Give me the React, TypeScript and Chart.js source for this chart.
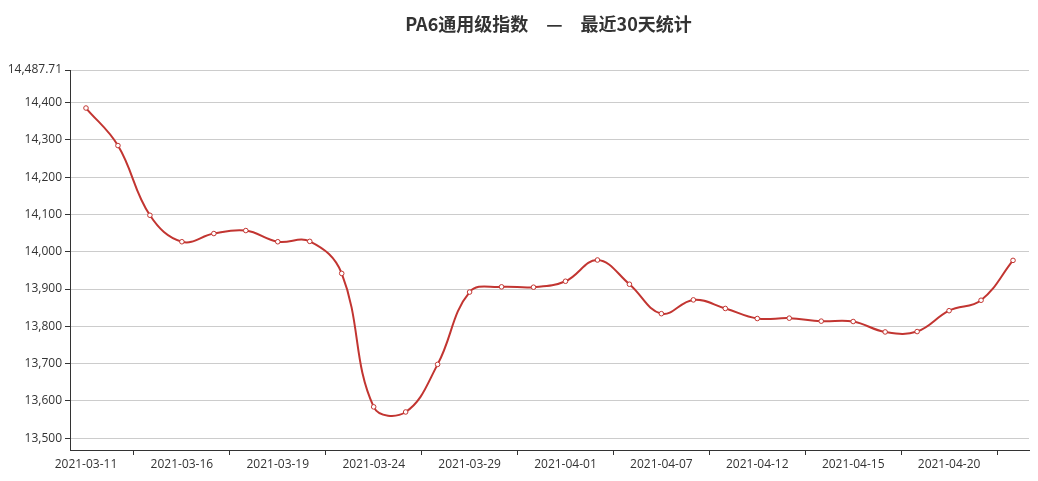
import React, { useEffect, useRef } from "react";
import { Chart, registerables } from "chart.js";

Chart.register(...registerables);

const TITLE = "PA6通用级指数　—　最近30天统计";

const DATES = [
  "2021-03-11", "2021-03-12", "2021-03-15", "2021-03-16", "2021-03-17",
  "2021-03-18", "2021-03-19", "2021-03-22", "2021-03-23", "2021-03-24",
  "2021-03-25", "2021-03-26", "2021-03-29", "2021-03-30", "2021-03-31",
  "2021-04-01", "2021-04-02", "2021-04-06", "2021-04-07", "2021-04-08",
  "2021-04-09", "2021-04-12", "2021-04-13", "2021-04-14", "2021-04-15",
  "2021-04-16", "2021-04-19", "2021-04-20", "2021-04-21", "2021-04-22",
];

const VALUES = [
  14385.7, 14285, 14098, 14027, 14049,
  14057, 14027, 14028, 13942, 13584,
  13570.3, 13698, 13892, 13906, 13905,
  13921, 13978, 13913, 13834, 13871,
  13848, 13821, 13822, 13814, 13813,
  13785, 13786, 13842, 13870, 13977,
];

const Y_TICKS = [13500, 13600, 13700, 13800, 13900, 14000, 14100, 14200, 14300, 14400, 14487.71];
const Y_MIN = 13468.3;
const Y_MAX = 14487.71;

const LABEL_EVERY = 3;
const LINE_COLOR = "#c23531";
const AXIS_COLOR = "#333333";
const GRID_COLOR = "#cccccc";
const FONT_FAMILY = "'Open Sans', 'Noto Sans CJK SC', sans-serif";

export default function App() {
  const canvasRef = useRef<HTMLCanvasElement | null>(null);

  useEffect(() => {
    document.body.style.margin = "0";
    const canvas = canvasRef.current;
    if (!canvas) return;
    const chart = new Chart(canvas, {
      type: "line",
      data: {
        labels: DATES,
        datasets: [
          {
            data: VALUES,
            borderColor: LINE_COLOR,
            borderWidth: 2,
            tension: 0.4,
            pointRadius: 2.3,
            pointBorderWidth: 1,
            pointBackgroundColor: "#ffffff",
            pointBorderColor: LINE_COLOR,
            fill: false,
          },
        ],
      },
      options: {
        animation: false,
        responsive: true,
        maintainAspectRatio: false,
        layout: { padding: { top: 70, right: 9, left: 0, bottom: 0 } },
        plugins: {
          legend: { display: false },
          title: { display: false },
          tooltip: { enabled: false },
        },
        scales: {
          x: {
            type: "category",
            offset: true,
            border: { display: true, color: AXIS_COLOR, width: 1 },
            grid: {
              offset: true,
              drawOnChartArea: false,
              drawTicks: true,
              tickLength: 5,
              color: "transparent",
              tickColor: (ctx: any) =>
                typeof ctx.index === "number" && ctx.index % LABEL_EVERY === LABEL_EVERY - 1
                  ? AXIS_COLOR
                  : "transparent",
            },
            ticks: {
              autoSkip: false,
              maxRotation: 0,
              minRotation: 0,
              padding: 2,
              color: AXIS_COLOR,
              font: { size: 12, family: FONT_FAMILY },
              callback: (_v: any, i: number) => (i % LABEL_EVERY === 0 ? DATES[i] : ""),
            },
            afterFit: (scale: any) => {
              scale.height = 31;
            },
          },
          y: {
            type: "linear",
            min: Y_MIN,
            max: Y_MAX,
            bounds: "data",
            border: { display: true, color: AXIS_COLOR, width: 1 },
            grid: {
              color: GRID_COLOR,
              lineWidth: 1,
              drawTicks: true,
              tickLength: 5,
              tickColor: AXIS_COLOR,
            },
            ticks: {
              padding: 3,
              color: AXIS_COLOR,
              font: { size: 12, family: FONT_FAMILY },
              callback: (v: any) =>
                Number(v).toLocaleString("en-US", { maximumFractionDigits: 2 }),
            },
            afterBuildTicks: (scale: any) => {
              scale.ticks = Y_TICKS.map((v) => ({ value: v }));
            },
            afterFit: (scale: any) => {
              scale.width = 70;
            },
          },
        },
      },
    });
    return () => chart.destroy();
  }, []);

  return (
    <div style={{ position: "relative", width: 1038, height: 481 }}>
      <canvas ref={canvasRef} />
      <div
        style={{
          position: "absolute",
          left: 0,
          top: 10,
          width: 1097,
          textAlign: "center",
          fontFamily: "'Noto Sans CJK SC', sans-serif",
          fontWeight: 700,
          fontSize: 18,
          lineHeight: "26px",
          color: AXIS_COLOR,
          whiteSpace: "pre",
          pointerEvents: "none",
        }}
      >
        {TITLE}
      </div>
    </div>
  );
}
